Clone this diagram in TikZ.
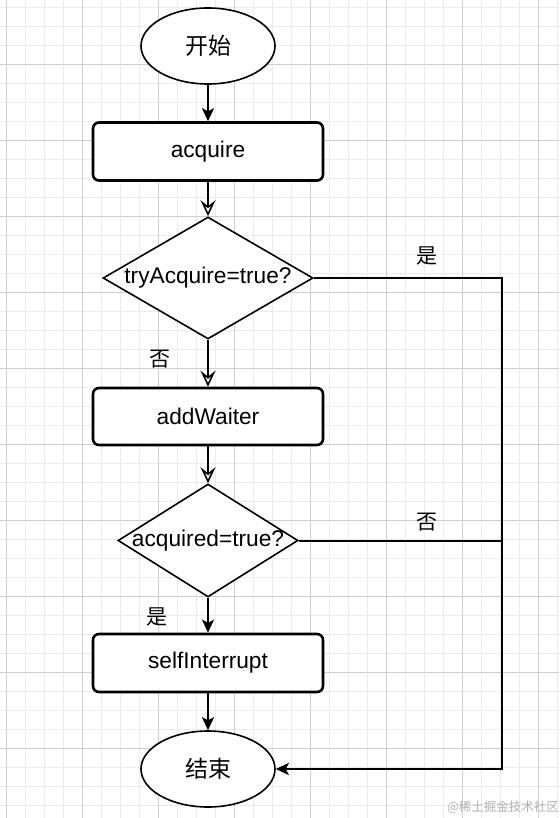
\documentclass[tikz,border=0pt]{standalone}
\usepackage{fontspec}
\setmainfont{Liberation Sans}
\newfontfamily\cjk{Noto Sans CJK SC}
\usetikzlibrary{shapes.geometric,arrows.meta}
\begin{document}
\begin{tikzpicture}[x=1pt,y=-1pt,
  minorline/.style={draw=black!8, line width=0.8pt},
  majorline/.style={draw=black!19, line width=0.8pt},
  term/.style={ellipse, draw, line width=1.6pt, fill=white, minimum width=134pt, minimum height=76pt, inner sep=0pt, font=\cjk\fontsize{23}{28}\selectfont},
  proc/.style={rectangle, rounded corners=6pt, draw, line width=2.6pt, fill=white, minimum width=230pt, minimum height=58pt, inner sep=0pt, font=\fontsize{22.7}{27}\selectfont},
  dec/.style={diamond, draw, line width=1.6pt, fill=white, inner sep=0pt, font=\fontsize{22.7}{27}\selectfont},
  flow/.style={line width=2pt, -{Stealth[length=13pt,width=12pt,inset=3pt]}},
  openflow/.style={line width=2pt, -{Stealth[open,length=16pt,width=15pt,inset=6pt,line width=1.6pt,fill=white]}},
  plain/.style={line width=2pt},
  lbl/.style={font=\cjk\fontsize{21}{24}\selectfont, inner sep=0pt},
  wmark/.style={font=\cjk\fontsize{12.5}{14}\selectfont, text=black!30, inner sep=0pt}
]
\fill[white] (0,0) rectangle (559,818);
\useasboundingbox (0,0) rectangle (559,818);
% grid
\foreach \i in {0,...,29} { \draw[minorline] ({6+19*\i},0) -- ({6+19*\i},818); }
\foreach \i in {0,...,42} { \draw[minorline] (0,{7+19*\i}) -- (559,{7+19*\i}); }
\foreach \i in {0,...,7} { \draw[majorline] ({6+76*\i},0) -- ({6+76*\i},818); }
\foreach \i in {0,...,9} { \draw[majorline] (0,{64+76*\i}) -- (559,{64+76*\i}); }
% nodes
\node[term] (start) at (208,46) {开始};
\node[proc] (acq) at (208,151.5) {acquire};
\node[dec, minimum width=210pt, minimum height=122pt] (d1) at (208,278) {\makebox[0pt]{tryAcquire=true?}};
\node[proc, minimum height=57pt] (add) at (208,416.5) {addWaiter};
\node[dec, minimum width=180pt, minimum height=113pt] (d2) at (208,540.5) {\makebox[0pt]{acquired=true?}};
\node[proc] (self) at (208,663) {selfInterrupt};
\node[term] (end) at (208,769) {结束};
% labels
\node[lbl] (no1) at (160,359) {否};
\node[lbl] (yes2) at (157,617) {是};
\node[lbl] (yes1) at (427,256) {是};
\node[lbl] (no2) at (427,522) {否};
\node[wmark] (wm) at (503,807) {@稀土掘金技术社区};
% connectors
\coordinate (c1) at (502,278);
\coordinate (c2) at (502,769);
\draw[flow] (start) -- (acq);
\draw[openflow] (acq) -- (d1);
\draw[openflow] (d1) -- (add);
\draw[openflow] (add) -- (d2);
\draw[flow] (d2) -- (self);
\draw[flow] (self) -- (end);
\draw[flow] (d1.east) -- (c1) -- (c2) -- (end.east);
\draw[plain] (d2.east) -- (d2.east -| c1);
\end{tikzpicture}
\end{document}
